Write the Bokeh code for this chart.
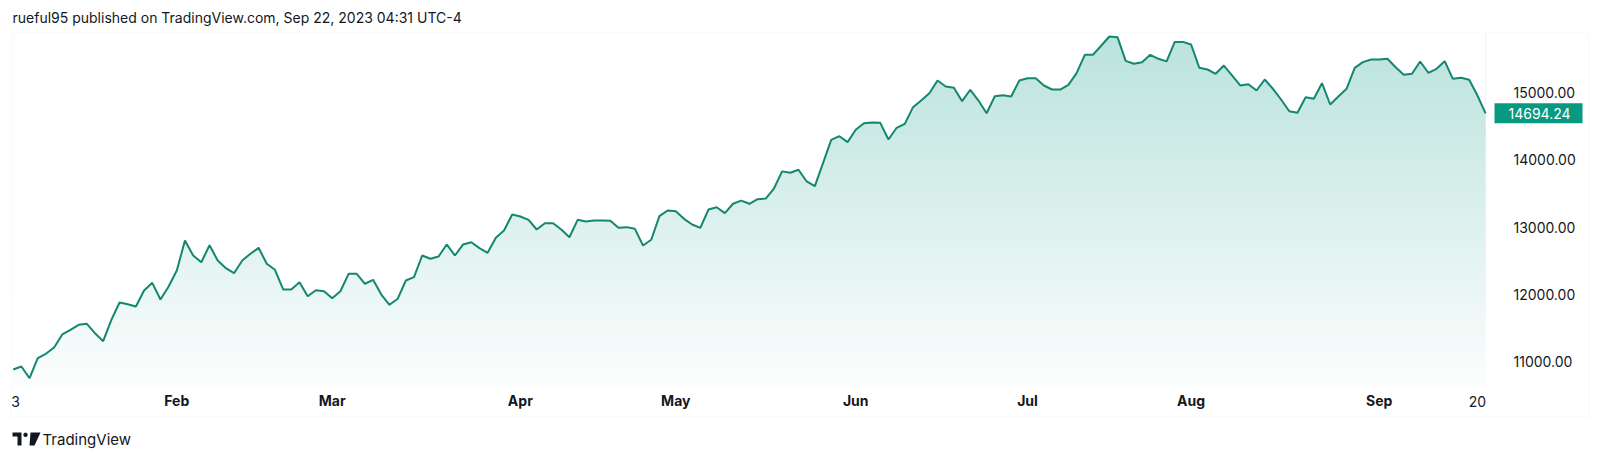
import numpy as np
import pandas as pd
from bokeh.plotting import figure
from bokeh.models import (Range1d, FixedTicker, PrintfTickFormatter, Label,
                          PolyAnnotation, LinearAxis)
from bokeh.core.properties import value
from bokeh.embed import file_html
from bokeh.resources import INLINE

# ---- data: NASDAQ 100 daily closes, Jan 3 - Sep 21, 2023 ----
holidays = ["2023-01-16", "2023-02-20", "2023-04-07", "2023-05-29",
            "2023-06-19", "2023-07-04", "2023-09-04"]
dates = pd.bdate_range("2023-01-03", "2023-09-21")
dates = dates[~dates.isin(pd.to_datetime(holidays))]

jan = [10881, 10925, 10751, 11049, 11114, 11208, 11402, 11472, 11546, 11561,
       11421, 11302, 11620, 11878, 11853, 11819, 12057, 12171, 11923, 12116]
feb = [12355, 12801, 12578, 12478, 12731, 12503, 12389, 12314, 12503, 12603,
       12692, 12454, 12365, 12072, 12072, 12180, 11972, 12061, 12046]
mar = [11942, 12046, 12305, 12305, 12157, 12216, 11997, 11844, 11933, 12206,
       12255, 12578, 12529, 12563, 12742, 12578, 12742, 12776, 12687, 12618,
       12841, 12950, 13188]
apr = [13158, 13109, 12965, 13059, 13059, 12965, 12850, 13109, 13084, 13099,
       13099, 13094, 12990, 13000, 12975, 12727, 12812, 13163, 13248]
may = [13238, 13124, 13039, 12990, 13263, 13297, 13208, 13348, 13395, 13348,
       13416, 13426, 13575, 13830, 13809, 13854, 13680, 13610, 13952, 14300,
       14354, 14265]
jun = [14449, 14547, 14558, 14553, 14305, 14479, 14538, 14786, 14885, 14994,
       15183, 15094, 15074, 14875, 15045, 14885, 14696, 14949, 14964, 14945,
       15183]
jul = [15217, 15217, 15109, 15049, 15049, 15119, 15292, 15566, 15566, 15700,
       15838, 15828, 15475, 15432, 15456, 15566, 15506, 15468, 15758, 15758]
aug = [15719, 15372, 15347, 15283, 15406, 15258, 15109, 15128, 15034, 15198,
       15060, 14900, 14726, 14702, 14935, 14911, 15143, 14826, 14945, 15060,
       15372, 15456, 15496]
sep = [15496, 15506, 15381, 15268, 15283, 15466, 15298, 15357, 15471, 15208,
       15223, 15193, 14960, 14694.24]

close = np.array(jan + feb + mar + apr + may + jun + jul + aug + sep, dtype=float)
dates = dates[:len(close)]
idx = np.arange(len(close))

price_ticks = [11000, 12000, 13000, 14000, 15000]
month_names = ["Feb", "Mar", "Apr", "May", "Jun", "Jul", "Aug", "Sep"]
first_label = "3"
last_tick_label = "20"
last_value = close[-1]

title_text = "rueful95 published on TradingView.com, Sep 22, 2023 04:31 UTC-4"
logo_text = "TradingView"

# ---- styling / layout (pixel geometry of the page) ----
FONT = "Inter"
TXT = "#131722"
LINE = "#13876f"
GREEN = "#089981"
GREEN_RGB = (8, 153, 129)
BORDER = "#e6e8ec"

W, H = 1600, 458
first_px = 12.7          # x of first bar
bar_px = 8.18            # px per bar
ref_px, ref_val = 92.3, 15000.0
unit_px = 0.06717        # px per index point
box_l, box_r, box_t, box_b = 10.5, 1588.5, 32.5, 416.5
pane_top_px = 33
pane_right_px = 1490.0
pane_bottom_px = 386
time_axis_px = 378.0
tag_left_px, tag_right_px, tag_half_h = 1494.0, 1582.0, 10.0
tag_text_px = 1508.0


def px_to_x(px):
    return (px - first_px) / bar_px


def px_to_y(py):
    return ref_val - (py - ref_px) / unit_px


x0, x1 = px_to_x(0), px_to_x(W)
y0, y1 = px_to_y(H), px_to_y(0)

p = figure(width=W, height=H, output_backend="svg", toolbar_location=None,
           x_range=Range1d(x0, x1), y_range=Range1d(y0, y1),
           x_axis_location=None, y_axis_location=None, min_border=0)
p.background_fill_color = "white"
p.border_fill_color = "white"
p.outline_line_color = None
p.grid.visible = False

# area fill with a vertical gradient: opaque rows, then the part above the line masked white
rows = np.arange(pane_top_px, pane_bottom_px)[::-1]          # bottom rows drawn first
tt = (pane_bottom_px - (rows + 0.5)) / (pane_bottom_px - pane_top_px)
eff = 0.012 + 0.268 * tt
row_colors = ["#%02x%02x%02x" % tuple(int(round(255 - e * (255 - c))) for c in GREEN_RGB)
              for e in eff]
p.quad(left=idx[0], right=idx[-1], bottom=px_to_y(rows + 2), top=px_to_y(rows),
       fill_color=row_colors, line_alpha=0)
p.varea(x=idx, y1=close, y2=y1, fill_color="white")
p.line(idx, close, line_color=LINE, line_width=2)

# price axis (inside the canvas, at the right edge of the pane)
ya = LinearAxis(fixed_location=px_to_x(pane_right_px),
                ticker=FixedTicker(ticks=price_ticks),
                formatter=PrintfTickFormatter(format="%.2f"))
ya.major_tick_line_color = None
ya.minor_tick_line_color = None
ya.axis_line_color = None
ya.major_label_standoff = 17
ya.major_label_text_font = FONT
ya.major_label_text_font_size = "14px"
ya.major_label_text_color = TXT
p.add_layout(ya, "right")

# time axis
month_idx = [int(i) for i in idx[1:] if dates[i].month != dates[i - 1].month]
xa = LinearAxis(fixed_location=px_to_y(time_axis_px), ticker=FixedTicker(ticks=month_idx))
xa.major_label_overrides = {i: n for i, n in zip(month_idx, month_names)}
xa.major_tick_line_color = None
xa.minor_tick_line_color = None
xa.axis_line_color = None
xa.major_label_standoff = 7
xa.major_label_text_font = FONT
xa.major_label_text_font_size = "14px"
xa.major_label_text_font_style = "bold"
xa.major_label_text_color = TXT
p.add_layout(xa, "below")

axis_y = 401
p.add_layout(Label(x=int(idx[0]), y=axis_y, y_units="canvas", text=first_label,
                   text_font=FONT, text_font_size="14px", text_color=TXT,
                   text_align="left", text_baseline="middle", x_offset=-2))
p.add_layout(Label(x=int(idx[-2]), y=axis_y, y_units="canvas", text=last_tick_label,
                   text_font=FONT, text_font_size="14px", text_color=TXT,
                   text_align="center", text_baseline="middle"))

# last price tag
p.quad(left=px_to_x(tag_left_px), right=px_to_x(tag_right_px),
       bottom=last_value - tag_half_h / unit_px, top=last_value + tag_half_h / unit_px,
       fill_color=GREEN, line_alpha=0)
p.text(x=[px_to_x(tag_text_px)], y=[last_value], text=[f"{last_value:.2f}"],
       text_font=value(FONT), text_font_size="14px", text_color="white",
       text_align="left", text_baseline="middle")

# outer frame of the chart
p.add_layout(PolyAnnotation(xs=[box_l, box_r, box_r, box_l], ys=[box_t, box_t, box_b, box_b],
                            xs_units="canvas", ys_units="canvas",
                            fill_alpha=0, line_color=BORDER, line_width=1))

# header text
p.add_layout(Label(x=12, y=17, x_units="canvas", y_units="canvas", text=title_text,
                   text_font=FONT, text_font_size="14px", text_color=TXT,
                   text_align="left", text_baseline="middle"))

# logo
p.add_layout(PolyAnnotation(xs=[12, 21, 21, 17, 17, 12], ys=[432, 432, 445, 445, 436, 436],
                            xs_units="canvas", ys_units="canvas",
                            fill_color=TXT, fill_alpha=1, line_alpha=0))
ang = np.linspace(0, 2 * np.pi, 13)[:-1]
p.add_layout(PolyAnnotation(xs=list(25 + 2.2 * np.cos(ang)), ys=list(434.3 + 2.2 * np.sin(ang)),
                            xs_units="canvas", ys_units="canvas",
                            fill_color=TXT, fill_alpha=1, line_alpha=0))
p.add_layout(PolyAnnotation(xs=[30, 40, 34, 29], ys=[432, 432, 445, 445],
                            xs_units="canvas", ys_units="canvas",
                            fill_color=TXT, fill_alpha=1, line_alpha=0))
p.add_layout(Label(x=42, y=438.5, x_units="canvas", y_units="canvas", text=logo_text,
                   text_font=FONT, text_font_size="15px", text_color=TXT,
                   text_align="left", text_baseline="middle"))

open("out.html", "w").write(file_html(p, INLINE))
